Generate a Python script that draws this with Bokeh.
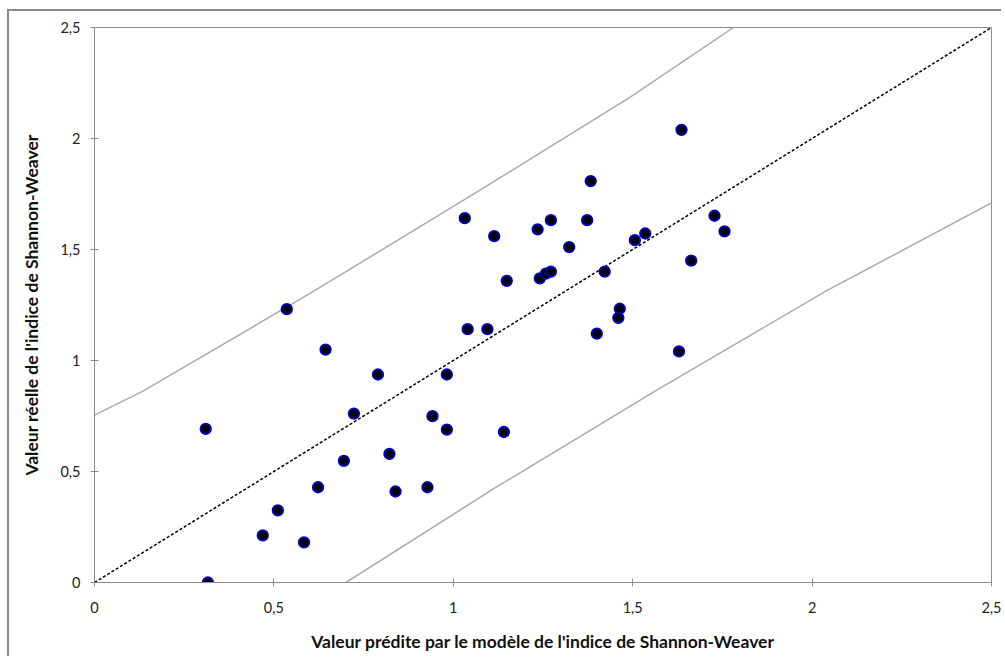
from bokeh.plotting import figure
from bokeh.embed import file_html
from bokeh.resources import INLINE
from bokeh.models import FixedTicker, CustomJSTickFormatter

# Data: predicted (x) vs observed (y) Shannon-Weaver index
predicted = [0.310, 0.316, 0.469, 0.511, 0.584, 0.623, 0.695, 0.536, 0.644, 0.790,
             0.982, 0.723, 0.942, 0.982, 1.141, 0.822, 0.839, 0.928, 1.040, 1.095,
             1.636, 1.383, 1.032, 1.114, 1.235, 1.272, 1.373, 1.323, 1.728, 1.756,
             1.506, 1.535, 1.663, 1.149, 1.241, 1.258, 1.272, 1.422, 1.464, 1.460,
             1.400, 1.629]
observed = [0.692, 0.000, 0.212, 0.325, 0.181, 0.429, 0.548, 1.231, 1.049, 0.937,
            0.937, 0.761, 0.749, 0.689, 0.678, 0.579, 0.410, 0.429, 1.141, 1.141,
            2.039, 1.808, 1.641, 1.560, 1.591, 1.632, 1.632, 1.511, 1.652, 1.582,
            1.542, 1.572, 1.450, 1.359, 1.370, 1.391, 1.400, 1.400, 1.233, 1.192,
            1.121, 1.041]

# 1:1 line
ident_x = [0.0, 2.5]
ident_y = [0.0, 2.5]

# Upper / lower prediction bands
upper_x = [0.0, 0.135, 0.610, 1.055, 1.492, 1.781]
upper_y = [0.754, 0.862, 1.311, 1.748, 2.185, 2.5]
lower_x = [0.701, 1.115, 1.567, 2.037, 2.5]
lower_y = [0.0, 0.425, 0.867, 1.311, 1.710]

ticks = [0, 0.5, 1, 1.5, 2, 2.5]

FONT = "Lato"
GRAY = "#8c8c8c"

p = figure(width=994, height=647, output_backend="svg", toolbar_location=None,
           x_range=(0, 2.5), y_range=(0, 2.5),
           min_border_left=85, min_border_top=16, min_border_right=12,
           min_border_bottom=76)
p.styles = {"border-left": "2px solid #8a8a8a", "border-top": "2px solid #8a8a8a",
            "box-sizing": "border-box", "margin-left": "7px", "margin-top": "9px"}

p.xgrid.visible = False
p.ygrid.visible = False
p.outline_line_color = GRAY
p.outline_line_width = 1
p.background_fill_color = "white"
p.border_fill_color = "white"

fmt = CustomJSTickFormatter(code="return tick.toString().replace('.', ',');")
for ax in (p.xaxis[0], p.yaxis[0]):
    ax.ticker = FixedTicker(ticks=ticks)
    ax.formatter = fmt
    ax.minor_tick_line_color = None
    ax.major_tick_in = 4
    ax.major_tick_out = 4
    ax.axis_line_color = GRAY
    ax.major_tick_line_color = GRAY
    ax.major_label_text_font = FONT
    ax.major_label_text_font_size = "14.5px"
    ax.major_label_text_color = "#222222"
    ax.axis_label_text_font = FONT
    ax.axis_label_text_font_size = "17.5px"
    ax.axis_label_text_font_style = "bold"
    ax.axis_label_text_color = "#111111"

p.xaxis.axis_label = "Valeur prédite par le modèle de l'indice de Shannon-Weaver"
p.yaxis.axis_label = "Valeur réelle de l'indice de Shannon-Weaver"
p.xaxis.major_label_standoff = 15
p.yaxis.major_label_standoff = 10
p.xaxis.axis_label_standoff = 15
p.yaxis.axis_label_standoff = 15

p.line(upper_x, upper_y, line_color="#aaaaaa", line_width=1.5)
p.line(lower_x, lower_y, line_color="#aaaaaa", line_width=1.5)
p.line(ident_x, ident_y, line_color="black", line_width=1.5, line_dash="3 2")

p.scatter(predicted, observed, size=10.5, fill_color="black",
          line_color="#0000cc", line_width=1.8)

open("out.html", "w").write(file_html(p, INLINE))
